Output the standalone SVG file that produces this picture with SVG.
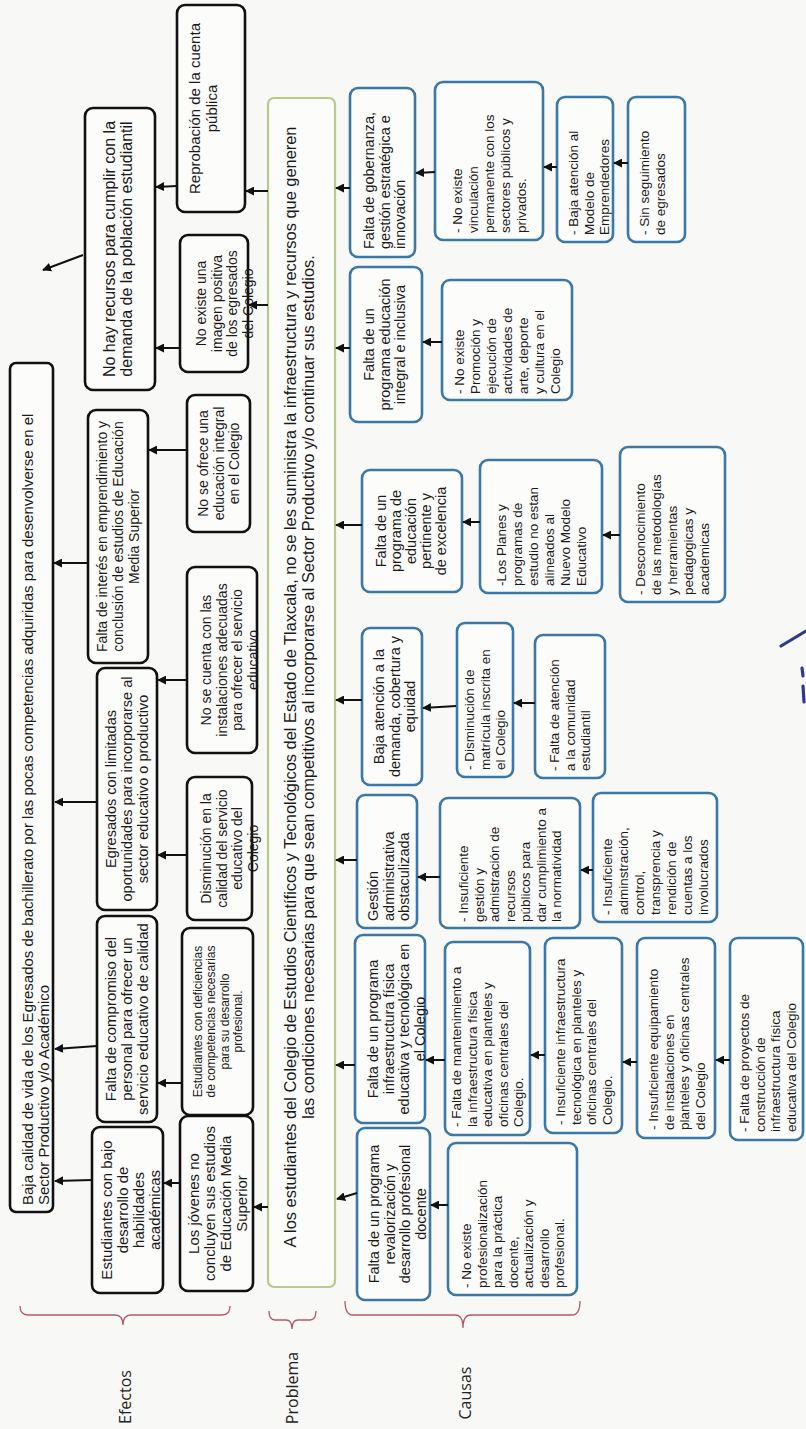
<svg xmlns="http://www.w3.org/2000/svg" width="806" height="1429" viewBox="0 0 806 1429">
<defs>
<style>
.bk{fill:#fcfcfb;stroke:#111;stroke-width:2.6}
.bl{fill:#fcfcfb;stroke:#3b78a6;stroke-width:2.6}
.gr{fill:#fcfcfb;stroke:#b7ca88;stroke-width:2.2}
.t{font-family:"Liberation Sans",Arial,sans-serif;fill:#1a1a1a}
.c{text-anchor:middle}
.lab{font-family:"Open Sans","Liberation Sans",sans-serif;fill:#222;text-anchor:middle}
.conn line{stroke:#111;stroke-width:2;marker-end:url(#ah)}
.br{fill:none;stroke:#b5576a;stroke-width:1.3}
</style>
<marker id="ah" viewBox="0 0 10 10" refX="9" refY="5" markerWidth="9" markerHeight="9" markerUnits="userSpaceOnUse" orient="auto"><path d="M0,0 L10,5 L0,10 z" fill="#111"/></marker>
</defs>
<rect width="806" height="1429" fill="#f8f8f6"/>

<g id="e0"><rect class="bk" x="10" y="363" width="43" height="849" rx="6"/><text class="t" font-size="15" transform="translate(33,1205) rotate(-90)"><tspan x="0" y="0">Baja calidad de vida de los Egresados de bachillerato por las pocas competencias adquiridas para desenvolverse en el</tspan><tspan x="0" y="16">Sector Productivo y/o Académico</tspan></text></g>

<g id="e1"><rect class="bk" x="85" y="108" width="70" height="282" rx="8"/><text class="t c" font-size="16" transform="translate(115,249) rotate(-90)"><tspan x="0" y="0">No hay recursos para cumplir con la</tspan><tspan x="0" y="16.5">demanda de la población estudiantil</tspan></text></g>
<g id="e2"><rect class="bk" x="88" y="410" width="60" height="253" rx="8"/><text class="t c" font-size="14" transform="translate(107,536.5) rotate(-90)"><tspan x="0" y="0">Falta de interés en emprendimiento y</tspan><tspan x="0" y="16">conclusión de estudios de Educación</tspan><tspan x="0" y="32">Media Superior</tspan></text></g>
<g id="e3"><rect class="bk" x="97" y="668" width="60" height="242" rx="8"/><text class="t c" font-size="14.5" transform="translate(116,789) rotate(-90)"><tspan x="0" y="0">Egresados con limitadas</tspan><tspan x="0" y="16">oportunidades para incorporarse al</tspan><tspan x="0" y="32">sector educativo o productivo</tspan></text></g>
<g id="e4"><rect class="bk" x="97" y="916" width="60" height="206" rx="8"/><text class="t c" font-size="15" transform="translate(116,1019) rotate(-90)"><tspan x="0" y="0">Falta de compromiso del</tspan><tspan x="0" y="16">personal para ofrecer un</tspan><tspan x="0" y="32">servicio educativo de calidad</tspan></text></g>
<g id="e5"><rect class="bk" x="92" y="1127" width="71" height="166" rx="8"/><text class="t c" font-size="15" transform="translate(112,1210) rotate(-90)"><tspan x="0" y="0">Estudiantes con bajo</tspan><tspan x="0" y="16">desarrollo de</tspan><tspan x="0" y="32">habilidades</tspan><tspan x="0" y="48">académicas</tspan></text></g>

<g id="t1"><rect class="bk" x="177" y="5" width="68" height="207" rx="8"/><text class="t c" font-size="15" transform="translate(200,108.5) rotate(-90)"><tspan x="0" y="0">Reprobación de la cuenta</tspan><tspan x="0" y="17">pública</tspan></text></g>
<g id="t2"><rect class="bk" x="180" y="235" width="68" height="137" rx="8"/><text class="t c" font-size="14" transform="translate(206,303.5) rotate(-90)"><tspan x="0" y="0">No existe una</tspan><tspan x="0" y="15.5">imagen positiva</tspan><tspan x="0" y="31">de los egresados</tspan><tspan x="0" y="46.5">del Colegio</tspan></text></g>
<g id="t3"><rect class="bk" x="187" y="395" width="63" height="137" rx="8"/><text class="t c" font-size="14" transform="translate(208,463.5) rotate(-90)"><tspan x="0" y="0">No se ofrece una</tspan><tspan x="0" y="15.5">educación integral</tspan><tspan x="0" y="31">en el Colegio</tspan></text></g>
<g id="t4"><rect class="bk" x="187" y="567" width="70" height="186" rx="8"/><text class="t c" font-size="14" transform="translate(211,660) rotate(-90)"><tspan x="0" y="0">No se cuenta con las</tspan><tspan x="0" y="15.5">instalaciones adecuadas</tspan><tspan x="0" y="31">para ofrecer el servicio</tspan><tspan x="0" y="46.5">educativo</tspan></text></g>
<g id="t5"><rect class="bk" x="187" y="777" width="65" height="143" rx="8"/><text class="t c" font-size="14" transform="translate(211,848.5) rotate(-90)"><tspan x="0" y="0">Disminución en la</tspan><tspan x="0" y="15.5">calidad del servicio</tspan><tspan x="0" y="31">educativo del</tspan><tspan x="0" y="46.5">Colegio</tspan></text></g>
<g id="t6"><rect class="bk" x="182" y="928" width="71" height="187" rx="8"/><text class="t c" font-size="12" transform="translate(201.5,1021.5) rotate(-90)"><tspan x="0" y="0">Estudiantes con deficiencias</tspan><tspan x="0" y="13.5">de competencias necesarias</tspan><tspan x="0" y="27">para su desarrollo</tspan><tspan x="0" y="40.5">profesional.</tspan></text></g>
<g id="t7"><rect class="bk" x="180" y="1116" width="73" height="175" rx="8"/><text class="t c" font-size="15" transform="translate(199,1203.5) rotate(-90)"><tspan x="0" y="0">Los jóvenes no</tspan><tspan x="0" y="16">concluyen sus estudios</tspan><tspan x="0" y="32">de Educación Media</tspan><tspan x="0" y="48">Superior</tspan></text></g>

<g id="problema"><rect class="gr" x="268" y="98" width="67" height="1189" rx="6"/><text class="t c" font-size="16.4" transform="translate(296,687) rotate(-90)"><tspan x="0" y="0">A los estudiantes del Colegio de Estudios Científicos y Tecnológicos del Estado de Tlaxcala, no se les suministra la infraestructura y recursos que  generen</tspan><tspan x="0" y="18">las condiciones necesarias para que sean competitivos al incorporarse al Sector Productivo y/o continuar sus estudios.</tspan></text></g>

<g id="c1"><rect class="bl" x="357" y="1128" width="73" height="172" rx="8"/><text class="t c" font-size="14.5" transform="translate(379,1214) rotate(-90)"><tspan x="0" y="0">Falta de un programa</tspan><tspan x="0" y="15.5">revalorización y</tspan><tspan x="0" y="31">desarrollo profesional</tspan><tspan x="0" y="46.5">docente</tspan></text></g>
<g id="c2"><rect class="bl" x="355" y="935" width="70" height="188" rx="8"/><text class="t c" font-size="14.5" transform="translate(378,1029) rotate(-90)"><tspan x="0" y="0">Falta de un programa</tspan><tspan x="0" y="15.5">infraestructura física</tspan><tspan x="0" y="31">educativa y tecnológica en</tspan><tspan x="0" y="46.5">el Colegio</tspan></text></g>
<g id="c3"><rect class="bl" x="357" y="795" width="60" height="133" rx="8"/><text class="t" font-size="14.5" transform="translate(378,921) rotate(-90)"><tspan x="0" y="0">Gestión</tspan><tspan x="0" y="15.5">administrativa</tspan><tspan x="0" y="31">obstaculizada</tspan></text></g>
<g id="c4"><rect class="bl" x="362" y="628" width="60" height="157" rx="8"/><text class="t c" font-size="14.5" transform="translate(384,706.5) rotate(-90)"><tspan x="0" y="0">Baja atención a la</tspan><tspan x="0" y="15.5">demanda, cobertura y</tspan><tspan x="0" y="31">equidad</tspan></text></g>
<g id="c5"><rect class="bl" x="362" y="470" width="100" height="122" rx="8"/><text class="t c" font-size="14.5" transform="translate(386,531) rotate(-90)"><tspan x="0" y="0">Falta de un</tspan><tspan x="0" y="15">programa de</tspan><tspan x="0" y="30">educación</tspan><tspan x="0" y="45">pertinente y</tspan><tspan x="0" y="60">de excelencia</tspan></text></g>
<g id="c6"><rect class="bl" x="350" y="267" width="72" height="155" rx="8"/><text class="t c" font-size="14.5" transform="translate(374,344.5) rotate(-90)"><tspan x="0" y="0">Falta de un</tspan><tspan x="0" y="15.5">programa educación</tspan><tspan x="0" y="31">integral e inclusiva</tspan></text></g>
<g id="c7"><rect class="bl" x="350" y="88" width="65" height="169" rx="8"/><text class="t" font-size="14.5" transform="translate(374,249) rotate(-90)"><tspan x="0" y="0">Falta de gobernanza,</tspan><tspan x="0" y="15.5">gestión estratégica e</tspan><tspan x="0" y="31">innovación</tspan></text></g>

<g id="s1"><rect class="bl" x="448" y="1143" width="129" height="152" rx="8"/><text class="t" font-size="13.5" transform="translate(471,1288) rotate(-90)"><tspan x="0" y="0">- No existe</tspan><tspan x="0" y="15.5">profesionalización</tspan><tspan x="0" y="31">para la práctica</tspan><tspan x="0" y="46.5">docente,</tspan><tspan x="0" y="62">actualización y</tspan><tspan x="0" y="77.5">desarrollo</tspan><tspan x="0" y="93">profesional.</tspan></text></g>
<g id="s2"><rect class="bl" x="445" y="942" width="85" height="193" rx="8"/><text class="t" font-size="13.5" transform="translate(461,1127) rotate(-90)"><tspan x="0" y="0">- Falta de mantenimiento a</tspan><tspan x="0" y="15.5">la infraestructura física</tspan><tspan x="0" y="31">educativa en planteles y</tspan><tspan x="0" y="46.5">oficinas centrales del</tspan><tspan x="0" y="62">Colegio.</tspan></text></g>
<g id="s3"><rect class="bl" x="545" y="938" width="77" height="195" rx="8"/><text class="t" font-size="13.5" transform="translate(565,1125) rotate(-90)"><tspan x="0" y="0">- Insuficiente infraestructura</tspan><tspan x="0" y="15.5">tecnológica en planteles y</tspan><tspan x="0" y="31">oficinas centrales del</tspan><tspan x="0" y="46.5">Colegio.</tspan></text></g>
<g id="s4"><rect class="bl" x="637" y="938" width="78" height="200" rx="8"/><text class="t" font-size="13.5" transform="translate(658,1130) rotate(-90)"><tspan x="0" y="0">- Insuficiente equipamiento</tspan><tspan x="0" y="15.5">de instalaciones en</tspan><tspan x="0" y="31">planteles y oficinas centrales</tspan><tspan x="0" y="46.5">del Colegio</tspan></text></g>
<g id="s5"><rect class="bl" x="730" y="938" width="73" height="202" rx="8"/><text class="t" font-size="13.5" transform="translate(749,1132) rotate(-90)"><tspan x="0" y="0">- Falta de proyectos de</tspan><tspan x="0" y="15.5">construcción de</tspan><tspan x="0" y="31">infraestructura física</tspan><tspan x="0" y="46.5">educativa del Colegio</tspan></text></g>
<g id="s6"><rect class="bl" x="440" y="798" width="140" height="130" rx="8"/><text class="t" font-size="13.5" transform="translate(468,922) rotate(-90)"><tspan x="0" y="0">- Insuficiente</tspan><tspan x="0" y="15.5">gestión y</tspan><tspan x="0" y="31">admistración de</tspan><tspan x="0" y="46.5">recursos</tspan><tspan x="0" y="62">públicos para</tspan><tspan x="0" y="77.5">dar cumplimiento a</tspan><tspan x="0" y="93">la normatividad</tspan></text></g>
<g id="s7"><rect class="bl" x="593" y="793" width="124" height="129" rx="8"/><text class="t" font-size="13.5" transform="translate(612,915) rotate(-90)"><tspan x="0" y="0">- Insuficiente</tspan><tspan x="0" y="16">adminstración,</tspan><tspan x="0" y="32">control,</tspan><tspan x="0" y="48">transprencia y</tspan><tspan x="0" y="64">rendición de</tspan><tspan x="0" y="80">cuentas a los</tspan><tspan x="0" y="96">involucrados</tspan></text></g>
<g id="s8"><rect class="bl" x="457" y="623" width="56" height="154" rx="8"/><text class="t" font-size="13.5" transform="translate(474,770) rotate(-90)"><tspan x="0" y="0">- Disminución de</tspan><tspan x="0" y="15.5">matrícula inscrita en</tspan><tspan x="0" y="31">el Colegio</tspan></text></g>
<g id="s9"><rect class="bl" x="535" y="635" width="70" height="143" rx="8"/><text class="t" font-size="13.5" transform="translate(559,771) rotate(-90)"><tspan x="0" y="0">- Falta de atención</tspan><tspan x="0" y="15.5">a la comunidad</tspan><tspan x="0" y="31">estudiantil</tspan></text></g>
<g id="s10"><rect class="bl" x="480" y="460" width="122" height="133" rx="8"/><text class="t" font-size="13.5" transform="translate(506,586) rotate(-90)"><tspan x="0" y="0">-Los Planes y</tspan><tspan x="0" y="16">programas de</tspan><tspan x="0" y="32">estudio no estan</tspan><tspan x="0" y="48">alineados al</tspan><tspan x="0" y="64">Nuevo Modelo</tspan><tspan x="0" y="80">Educativo</tspan></text></g>
<g id="s11"><rect class="bl" x="620" y="447" width="105" height="155" rx="8"/><text class="t" font-size="13.5" transform="translate(645,595) rotate(-90)"><tspan x="0" y="0">- Desconocimiento</tspan><tspan x="0" y="16">de las metodologías</tspan><tspan x="0" y="32">y herramientas</tspan><tspan x="0" y="48">pedagogicas y</tspan><tspan x="0" y="64">academicas</tspan></text></g>
<g id="s12"><rect class="bl" x="442" y="280" width="130" height="120" rx="8"/><text class="t" font-size="13.5" transform="translate(464,394) rotate(-90)"><tspan x="0" y="0">- No existe</tspan><tspan x="0" y="16">Promoción y</tspan><tspan x="0" y="32">ejecución de</tspan><tspan x="0" y="48">actividades de</tspan><tspan x="0" y="64">arte, deporte</tspan><tspan x="0" y="80">y cultura en el</tspan><tspan x="0" y="96">Colegio</tspan></text></g>
<g id="s13"><rect class="bl" x="435" y="82" width="108" height="158" rx="8"/><text class="t" font-size="13.5" transform="translate(462,233) rotate(-90)"><tspan x="0" y="0">- No existe</tspan><tspan x="0" y="16">vinculación</tspan><tspan x="0" y="32">permanente con los</tspan><tspan x="0" y="48">sectores públicos y</tspan><tspan x="0" y="64">privados.</tspan></text></g>
<g id="s14"><rect class="bl" x="557" y="97" width="56" height="145" rx="8"/><text class="t" font-size="13.5" transform="translate(578,235) rotate(-90)"><tspan x="0" y="0">- Baja atención al</tspan><tspan x="0" y="15.5">Modelo de</tspan><tspan x="0" y="31">Emprendedores</tspan></text></g>
<g id="s15"><rect class="bl" x="628" y="97" width="57" height="145" rx="8"/><text class="t" font-size="13.5" transform="translate(649,235) rotate(-90)"><tspan x="0" y="0">- Sin seguimiento</tspan><tspan x="0" y="15.5">de egresados</tspan></text></g>

<g id="connectors" class="conn">
<line x1="83" y1="255" x2="43" y2="270"/>
<line x1="88" y1="563" x2="54" y2="563"/>
<line x1="97" y1="802" x2="55" y2="802"/>
<line x1="97" y1="1046" x2="55" y2="1049"/>
<line x1="92" y1="1180" x2="55" y2="1181"/>
<line x1="177" y1="186" x2="156" y2="187"/>
<line x1="180" y1="348" x2="156" y2="348"/>
<line x1="187" y1="450" x2="149" y2="450"/>
<line x1="187" y1="680" x2="158" y2="680"/>
<line x1="187" y1="855" x2="158" y2="855"/>
<line x1="182" y1="1083" x2="158" y2="1083"/>
<line x1="180" y1="1183" x2="164" y2="1183"/>
<line x1="268" y1="191" x2="246" y2="191"/>
<line x1="268" y1="305" x2="249" y2="305"/>
<line x1="268" y1="1207" x2="254" y2="1207"/>
<line x1="350" y1="188" x2="336" y2="188"/>
<line x1="350" y1="348" x2="336" y2="348"/>
<line x1="362" y1="525" x2="336" y2="525"/>
<line x1="362" y1="700" x2="336" y2="700"/>
<line x1="357" y1="860" x2="336" y2="860"/>
<line x1="355" y1="1065" x2="336" y2="1065"/>
<line x1="357" y1="1193" x2="337" y2="1199"/>
<line x1="435" y1="172" x2="416" y2="173"/>
<line x1="557" y1="167" x2="544" y2="167"/>
<line x1="628" y1="163" x2="614" y2="163"/>
<line x1="442" y1="342" x2="423" y2="342"/>
<line x1="480" y1="522" x2="463" y2="522"/>
<line x1="620" y1="535" x2="603" y2="535"/>
<line x1="456" y1="706" x2="423" y2="708"/>
<line x1="535" y1="703" x2="514" y2="703"/>
<line x1="440" y1="877" x2="418" y2="877"/>
<line x1="593" y1="870" x2="581" y2="870"/>
<line x1="445" y1="1060" x2="426" y2="1060"/>
<line x1="545" y1="1055" x2="531" y2="1055"/>
<line x1="637" y1="1062" x2="623" y2="1062"/>
<line x1="730" y1="1060" x2="716" y2="1060"/>
<line x1="448" y1="1205" x2="431" y2="1205"/>
</g>

<g id="brackets">
<path class="br" d="M20,1306 Q20,1315 28,1315 L115,1315 Q123,1315 123,1325 Q123,1315 131,1315 L222,1315 Q230,1315 230,1306"/>
<path class="br" d="M269,1311 Q269,1320 275,1320 L286,1320 Q292,1320 292,1329 Q292,1320 298,1320 L310,1320 Q316,1320 316,1311"/>
<path class="br" d="M345,1301 Q345,1315 353,1315 L455,1315 Q463,1315 463,1328 Q463,1315 471,1315 L572,1315 Q580,1315 580,1301"/>
</g>

<g id="labels">
<text class="lab" font-size="16" transform="translate(131,1397) rotate(-90)">Efectos</text>
<text class="lab" font-size="16" transform="translate(298,1388) rotate(-90)">Problema</text>
<text class="lab" font-size="16" transform="translate(471,1393) rotate(-90)">Causas</text>
</g>

<g id="firma" fill="none" stroke="#2b3a8f" stroke-linecap="round">
<path d="M781,646 L806,631" stroke-width="3.2"/>
<path d="M802,668 L803,676" stroke-width="3.2"/>
<path d="M803,686 L804,702" stroke-width="3.2"/>
</g>
</svg>
